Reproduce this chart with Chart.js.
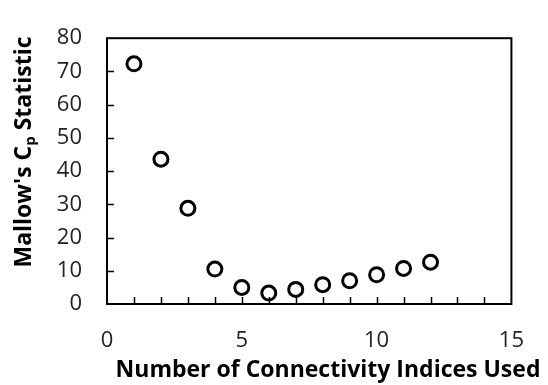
<!DOCTYPE html>
<html>
<head>
<meta charset="utf-8">
<script src="https://cdn.jsdelivr.net/npm/chart.js@4"></script>
<style>
  html, body { margin: 0; padding: 0; background: #fff; }
  #wrap { width: 548px; height: 385px; }
</style>
</head>
<body>
<div id="wrap"><canvas id="grafico"></canvas></div>
<script>
// dados
const numIndices = [1, 2, 3, 4, 5, 6, 7, 8, 9, 10, 11, 12]
const cpValores = [72.3, 43.6, 28.8, 10.5, 5.0, 3.3, 4.4, 5.8, 7.0, 8.8, 10.7, 12.6]
const xTicks = [0, 5, 10, 15]
const yTicks = [0, 10, 20, 30, 40, 50, 60, 70, 80]

const fonte = "'Open Sans', 'DejaVu Sans', sans-serif"

// moldura, ticks para dentro e titulos dos eixos
const molduraPlugin = {
    id: 'moldura',
    afterDraw(chart) {
        const ctx = chart.ctx
        const a = chart.chartArea
        const sx = chart.scales.x
        const sy = chart.scales.y
        ctx.save()
        ctx.strokeStyle = '#000'
        ctx.lineWidth = 2
        ctx.strokeRect(a.left, a.top, a.right - a.left, a.bottom - a.top)

        ctx.lineWidth = 1.5
        ctx.beginPath()
        for (let v = sx.min + 1; v < sx.max; v++) {
            const px = Math.round(sx.getPixelForValue(v)) + 0.5
            ctx.moveTo(px, a.bottom)
            ctx.lineTo(px, a.bottom - 7)
        }
        for (let i = 1; i < yTicks.length - 1; i++) {
            const py = Math.round(sy.getPixelForValue(yTicks[i])) + 0.5
            ctx.moveTo(a.left, py)
            ctx.lineTo(a.left + 7, py)
        }
        ctx.stroke()

        // titulo eixo x
        ctx.fillStyle = '#000'
        ctx.font = "bold 23px " + fonte
        ctx.textAlign = 'center'
        ctx.textBaseline = 'middle'
        ctx.fillText('Number of Connectivity Indices Used', 328, 370)

        // titulo eixo y com subscrito
        const parte1 = "Mallow's C"
        const sub = 'p'
        const parte2 = ' Statistic'
        ctx.translate(24, 152)
        ctx.rotate(-Math.PI / 2)
        ctx.font = "bold 23px " + fonte
        const w1 = ctx.measureText(parte1).width
        const w3 = ctx.measureText(parte2).width
        ctx.font = "bold 15px " + fonte
        const w2 = ctx.measureText(sub).width
        const total = w1 + w2 + w3
        let x0 = -total / 2
        ctx.textAlign = 'left'
        ctx.font = "bold 23px " + fonte
        ctx.fillText(parte1, x0, 0)
        ctx.font = "bold 15px " + fonte
        ctx.fillText(sub, x0 + w1, 7)
        ctx.font = "bold 23px " + fonte
        ctx.fillText(parte2, x0 + w1 + w2, 0)
        ctx.restore()
    }
}

const ctx = document.getElementById('grafico')

new Chart(ctx, {
    type: 'scatter',
    data: {
        datasets: [{
            label: "Mallow's Cp",
            data: numIndices.map((n, i) => ({ x: n, y: cpValores[i] })),
            pointRadius: 7,
            pointBorderWidth: 3,
            pointBorderColor: '#000',
            pointBackgroundColor: 'rgba(0,0,0,0)'
        }]
    },
    options: {
        responsive: true,
        maintainAspectRatio: false,
        animation: false,
        layout: { padding: { top: 23, right: 15, left: 0, bottom: 0 } },
        plugins: { legend: { display: false }, tooltip: { enabled: false } },
        scales: {
            x: {
                type: 'linear',
                min: 0,
                max: 15,
                afterBuildTicks(scale) {
                    scale.ticks = xTicks.map(v => ({ value: v }))
                },
                afterFit(scale) { scale.height = 81 },
                grid: { display: false, drawTicks: false },
                border: { display: false },
                ticks: { color: '#222', font: { family: fonte, size: 22 }, padding: 24 }
            },
            y: {
                min: 0,
                max: 80,
                afterBuildTicks(scale) {
                    scale.ticks = yTicks.map(v => ({ value: v }))
                },
                afterFit(scale) { scale.width = 107 },
                grid: { display: false, drawTicks: false },
                border: { display: false },
                ticks: { color: '#222', font: { family: fonte, size: 22 }, padding: 25 }
            }
        }
    },
    plugins: [molduraPlugin]
})
</script>
</body>
</html>
